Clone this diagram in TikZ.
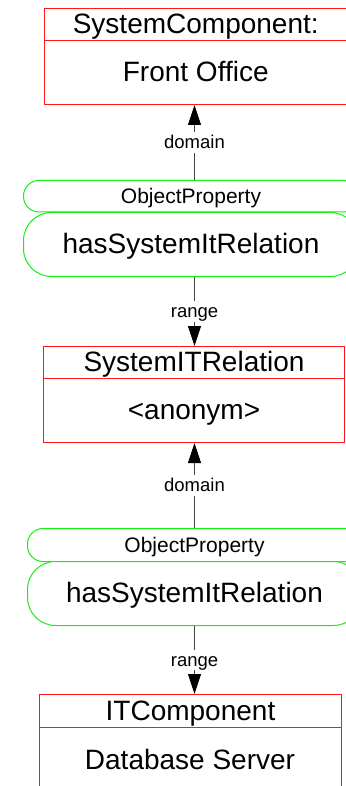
\documentclass[tikz,border=0pt]{standalone}
\usepackage{fontspec}
\setmainfont{Liberation Sans}
\usetikzlibrary{arrows.meta}
\definecolor{clsred}{RGB}{255,25,25}
\definecolor{propgreen}{RGB}{20,240,20}
\definecolor{linkgray}{RGB}{70,70,70}
\tikzset{
  box/.style={line width=1pt, fill=white, inner sep=0pt, anchor=north west},
  bigtext/.style={font=\fontsize{28}{30}\selectfont, text height=20pt, text depth=1.5pt},
  smalltext/.style={font=\fontsize{21}{24}\selectfont, text height=15pt, text depth=1pt},
  clshead/.style={box, draw=clsred, bigtext},
  clsbody/.style={box, draw=clsred, bigtext},
  prophead/.style={box, draw=propgreen, rounded corners=15.5pt, smalltext},
  propbody/.style={box, draw=propgreen, rounded corners=28pt, bigtext},
  link/.style={draw=linkgray, line width=0.9pt,
               -{Triangle[length=20pt,width=13pt,color=black]}},
  lbl/.style={fill=white, inner sep=3pt, font=\fontsize{18.5}{20}\selectfont,
              text height=13.3pt, text depth=1pt}
}
\begin{document}
\begin{tikzpicture}[x=1pt,y=1pt]
\useasboundingbox (0,0) rectangle (345,-786);
\coordinate (axis) at (194.5,0);

% SystemComponent: Front Office
\node[clshead, minimum width=303.5pt, minimum height=32pt] (c1h) at (43.5,-8) {SystemComponent:};
\node[clsbody, minimum width=303.5pt, minimum height=64pt] (c1b) at (43.5,-40) {Front Office};

% first object property
\node[prophead, minimum width=335pt, minimum height=31.5pt] (p1h) at (23,-180) {ObjectProperty};
\node[propbody, minimum width=335pt, minimum height=64pt] (p1b) at (23,-212) {hasSystemItRelation};

% SystemITRelation: <anonym>
\node[clshead, minimum width=301pt, minimum height=32pt] (c2h) at (43,-346) {SystemITRelation};
\node[clsbody, minimum width=301pt, minimum height=64pt] (c2b) at (43,-378) {<anonym>};

% second object property
\node[prophead, minimum width=334pt, minimum height=33pt] (p2h) at (27,-528) {ObjectProperty};
\node[propbody, minimum width=334pt, minimum height=64pt] (p2b) at (27,-561) {hasSystemItRelation};

% ITComponent: Database Server
\node[clshead, minimum width=302pt, minimum height=33pt] (c3h) at (39,-694) {ITComponent};
\node[clsbody, minimum width=302pt, minimum height=80pt] (c3b) at (39,-727) {};
\node[bigtext, inner sep=0pt] (c3t) at (190,-760) {Database Server};

% domain / range links
\draw[link] (p1h.north -| axis) -- node[lbl] (l1) {domain} (c1b.south -| axis);
\draw[link] (p1b.south -| axis) -- node[lbl] (l2) {range} (c2h.north -| axis);
\draw[link] (p2h.north -| axis) -- node[lbl] (l3) {domain} (c2b.south -| axis);
\draw[link] (p2b.south -| axis) -- node[lbl] (l4) {range} (c3h.north -| axis);
\end{tikzpicture}
\end{document}
